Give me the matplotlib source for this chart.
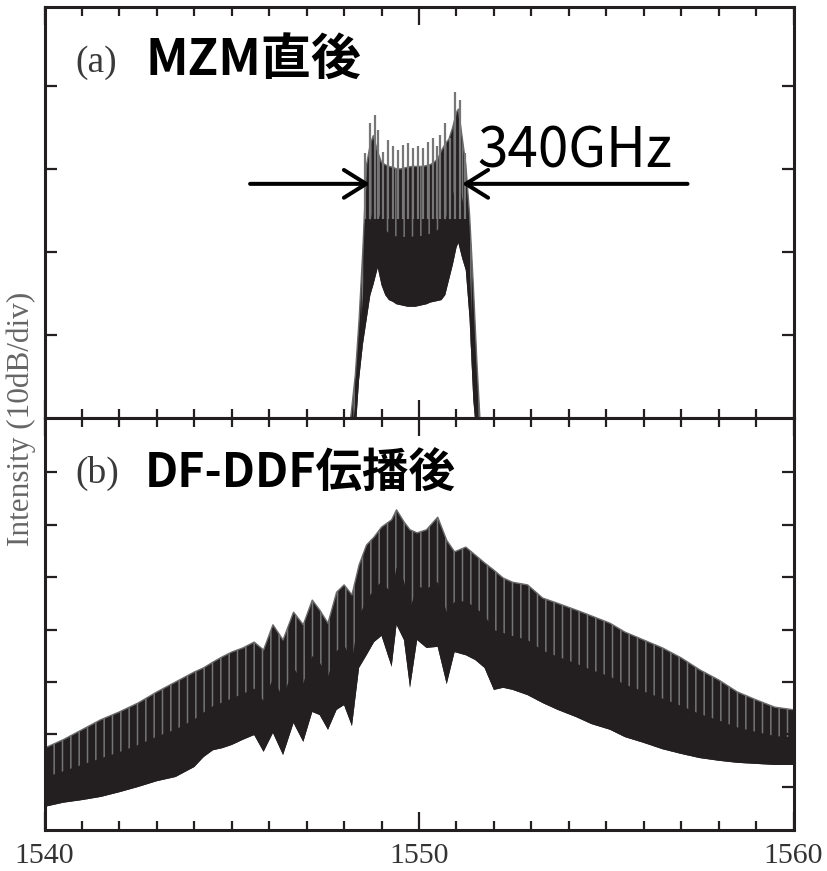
import matplotlib
matplotlib.use("Agg")
import matplotlib.pyplot as plt
import numpy as np

# (a) spectrum right after the MZM, levels in dB (10 dB per tick)
wl_a = [1548.10, 1548.20, 1548.30, 1548.40, 1548.50, 1548.60, 1548.70, 1548.78,
        1548.90, 1549.00, 1549.10, 1549.20, 1549.30, 1549.40, 1549.50, 1549.60,
        1549.70, 1549.80, 1549.90, 1550.00, 1550.10, 1550.20, 1550.30, 1550.40,
        1550.50, 1550.60, 1550.70, 1550.80, 1550.90, 1551.00, 1551.05, 1551.15,
        1551.25, 1551.35, 1551.45, 1551.55, 1551.65]
peak_a = [-3.0, 1.0, 5.2, 11.8, 20.2, 30.5, 33.0, 34.0,
          32.0, 30.8, 30.5, 30.3, 30.2, 30.0, 30.0, 30.1,
          30.2, 30.3, 30.3, 30.3, 30.3, 30.4, 30.5, 30.8,
          31.2, 32.2, 33.0, 33.6, 35.0, 36.8, 37.2, 33.9,
          30.5, 24.5, 16.0, 6.4, -2.0]
floor_a = [-5.0, -5.0, -2.0, 4.6, 8.8, 11.8, 14.8, 16.0,
           18.1, 16.0, 14.8, 14.2, 14.0, 13.7, 13.6, 13.5,
           13.4, 13.4, 13.4, 13.5, 13.6, 13.7, 13.9, 14.0,
           14.1, 14.2, 14.8, 16.6, 18.4, 20.5, 21.1, 19.3,
           17.8, 12.0, 2.2, -3.0, -5.0]
# individual comb line tips of (a)
tip_wl_a = [1548.56, 1548.69, 1548.83, 1548.91, 1549.04, 1549.17, 1549.31, 1549.44,
            1549.57, 1549.71, 1549.84, 1549.97, 1550.11, 1550.24, 1550.37, 1550.48,
            1550.56, 1550.69, 1550.83, 1550.96, 1551.09, 1551.23]
tip_a = [31.9, 35.5, 36.5, 34.7, 32.0, 33.5, 32.7, 32.3,
         32.9, 33.1, 32.5, 32.7, 32.5, 33.3, 33.7, 32.7,
         34.1, 35.5, 33.7, 39.3, 38.3, 31.9]

# (b) spectrum after DF-DDF propagation
wl_b = [1540.0, 1540.5, 1541.0, 1541.5, 1542.0, 1542.5, 1543.0, 1543.5,
        1544.0, 1544.25, 1544.5, 1544.75, 1545.0, 1545.3, 1545.6, 1545.85,
        1546.1, 1546.37, 1546.65, 1546.91, 1547.15, 1547.35, 1547.57, 1547.8,
        1548.0, 1548.21, 1548.4, 1548.6, 1548.8, 1549.0, 1549.27, 1549.4,
        1549.6, 1549.76, 1549.95, 1550.2, 1550.5, 1550.74, 1550.95, 1551.25,
        1551.5, 1551.75, 1552.0, 1552.25, 1552.5, 1552.9, 1553.3, 1553.7,
        1554.2, 1554.6, 1555.1, 1555.5, 1556.0, 1556.5, 1557.0, 1557.5,
        1558.0, 1558.5, 1559.0, 1559.5, 1560.0]
peak_b = [7.4, 9.0, 10.9, 12.8, 14.3, 16.0, 18.1, 20.0,
          21.9, 22.7, 23.8, 24.8, 25.7, 26.5, 27.6, 26.1,
          30.9, 28.0, 33.3, 30.9, 35.6, 33.7, 31.2, 37.1,
          38.5, 36.6, 42.3, 46.1, 47.6, 49.5, 50.9, 52.8,
          50.5, 49.0, 48.4, 49.0, 51.4, 47.0, 44.8, 45.7,
          44.2, 42.7, 41.3, 39.8, 39.0, 38.5, 36.0, 35.0,
          33.7, 32.6, 31.2, 29.5, 28.0, 26.5, 24.6, 22.3,
          20.4, 18.1, 16.6, 15.2, 14.7]
floor_b = [-3.8, -3.0, -2.5, -1.9, -1.0, 0.0, 1.1, 1.9,
           3.8, 5.7, 7.0, 7.4, 8.0, 9.0, 9.9, 6.7,
           10.3, 6.1, 12.2, 8.6, 14.3, 13.7, 10.9, 14.7,
           15.6, 11.6, 22.7, 25.1, 27.6, 28.8, 22.9, 30.9,
           28.0, 18.9, 28.0, 26.5, 26.7, 19.6, 25.7, 25.1,
           24.2, 22.7, 18.5, 18.9, 18.5, 17.5, 16.0, 14.7,
           13.3, 12.0, 10.9, 9.5, 8.4, 7.2, 6.3, 5.5,
           5.0, 4.6, 4.4, 4.2, 4.2]

x_ticks = [1540, 1550, 1560]
W, H = 827, 871
SERIF = ["Liberation Serif", "DejaVu Serif"]
JP = ["Noto Sans CJK JP", "DejaVu Sans"]
INK = "#231f20"


def style_axis(ax, yticks, ylim):
    ax.set_xlim(1540, 1560)
    ax.set_ylim(*ylim)
    ax.set_xticks(x_ticks)
    ax.set_xticks(np.arange(1541, 1560), minor=True)
    ax.set_yticks(yticks)
    ax.tick_params(which="both", direction="in", top=True, right=True,
                   width=1.6, color=INK)
    ax.tick_params(which="major", axis="x", length=13)
    ax.tick_params(which="minor", axis="x", length=6.5)
    ax.tick_params(which="major", axis="y", length=8.5)
    ax.tick_params(labelleft=False, labelbottom=False)
    for s in ax.spines.values():
        s.set_linewidth(2.2)
        s.set_color(INK)


def draw_spectrum(ax, wl, fl, pk):
    wl, fl, pk = np.asarray(wl), np.asarray(fl), np.asarray(pk)
    # streaky upper part of the comb, solid lower core
    ax.fill_between(wl, fl, pk, facecolor=INK, edgecolor="#747474",
                    hatch="||", linewidth=0)
    ax.fill_between(wl, fl, fl + 0.5 * (pk - fl), facecolor=INK, linewidth=0)
    ax.plot(wl, pk, color="#6a6a6a", lw=1.0)


def main():
    plt.rcParams["hatch.linewidth"] = 1.1
    fig = plt.figure(figsize=(W / 100, H / 100), dpi=100)
    left, right = 44.5 / W, 793.5 / W
    ax_a = fig.add_axes([left, 1 - 418 / H, right - left, (418 - 7) / H])
    ax_b = fig.add_axes([left, 1 - 830 / H, right - left, (830 - 418) / H])

    draw_spectrum(ax_a, wl_a, floor_a, peak_a)
    ax_a.vlines(tip_wl_a, 24, tip_a, color="#777777", lw=1.6)
    draw_spectrum(ax_b, wl_b, floor_b, peak_b)

    style_axis(ax_a, [10, 20, 30, 40], (0, 49.5))
    style_axis(ax_b, [0, 10, 20, 30, 40, 50, 60], (-8.2, 70.3))
    ax_b.tick_params(labelbottom=True, pad=9)
    for lab in ax_b.get_xticklabels():
        lab.set_fontfamily(SERIF)
        lab.set_fontsize(21.5)
        lab.set_color("#333333")

    # 340GHz bandwidth arrows
    arrow_y = 28.2
    arr = dict(arrowstyle="->,head_length=0.8,head_width=0.5", lw=2.9,
               color="black", mutation_scale=20, shrinkA=0, shrinkB=0)
    ax_a.annotate("", xy=(1548.69, arrow_y), xytext=(1545.49, arrow_y), arrowprops=arr)
    ax_a.annotate("", xy=(1551.15, arrow_y), xytext=(1557.17, arrow_y), arrowprops=arr)
    ax_a.text(1551.55, arrow_y + 2.0, "340GHz", family=JP, fontsize=39.5,
              color="black", va="baseline")

    fig.text(75 / W, 1 - 72 / H, "(a)", family=SERIF, fontsize=27, color="#3a3a3a")
    fig.text(145 / W, 1 - 75 / H, "MZM直後", family=JP, fontsize=36,
             fontweight="bold", color="black")
    fig.text(75 / W, 1 - 483 / H, "(b)", family=SERIF, fontsize=27, color="#3a3a3a")
    fig.text(145 / W, 1 - 488 / H, "DF-DDF伝播後", family=JP, fontsize=33.5,
             fontweight="bold", color="black")

    fig.text(21 / W, 1 - 418.5 / H, "Intensity (10dB/div)", family=SERIF,
             fontsize=22.5, color="#666666", rotation=90, ha="center", va="center")

    fig.savefig("out.png", dpi=100)


if __name__ == "__main__":
    main()
